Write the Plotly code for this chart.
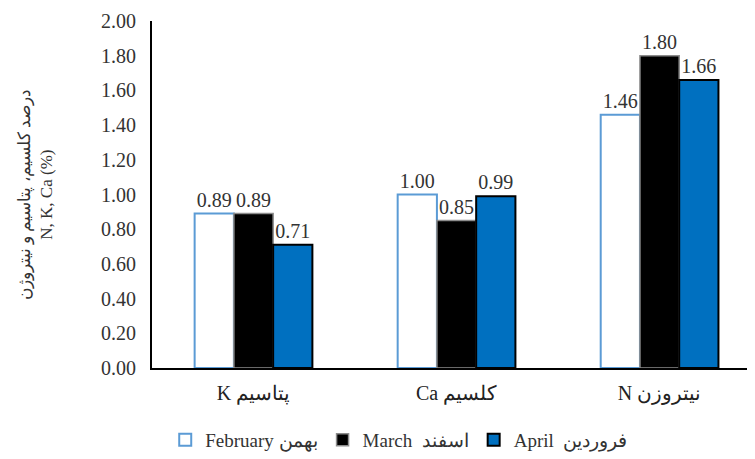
import plotly.graph_objects as go

categories = ["K پتاسیم", "Ca کلسیم", "N نیتروزن"]
series_names = ["February بهمن", "March  اسفند", "April  فروردین"]
february = [0.89, 1.00, 1.46]
march = [0.89, 0.85, 1.80]
april = [0.71, 0.99, 1.66]
y_ticks = [0.0, 0.2, 0.4, 0.6, 0.8, 1.0, 1.2, 1.4, 1.6, 1.8, 2.0]

serif = "Liberation Serif, Times New Roman, serif"

styles = [
    dict(fill="#FFFFFF", line="#5B9BD5", lw=2),
    dict(fill="#000000", line="#8C8C8C", lw=1.5),
    dict(fill="#0070C0", line="#000000", lw=2),
]

fig = go.Figure()
for name, vals, st in zip(series_names, [february, march, april], styles):
    fig.add_trace(go.Bar(
        x=categories, y=vals, name=name,
        marker=dict(color=st["fill"], line=dict(color=st["line"], width=st["lw"])),
        text=[f"{v:.2f}" for v in vals], textposition="outside",
        textfont=dict(family=serif, size=20, color="#333333"),
        cliponaxis=False,
    ))

fig.update_layout(
    width=747, height=451,
    margin=dict(l=144, r=0, t=13, b=90),
    paper_bgcolor="white", plot_bgcolor="white",
    barmode="group", bargap=0.42, bargroupgap=0,
    font=dict(family=serif, size=19, color="#333333"),
    showlegend=True,
    legend=dict(orientation="h", x=0.41, xanchor="center", y=-0.207, yanchor="middle",
                font=dict(family=serif, size=19, color="#333333"), traceorder="normal"),
    xaxis=dict(range=[-0.5, 2.47], showline=True, linecolor="#000000", linewidth=2,
               showgrid=False, ticks="", ticklabelstandoff=6,
               tickfont=dict(family=serif, size=20, color="#222222")),
    yaxis=dict(range=[0, 2], tickvals=y_ticks, ticktext=[f"{v:.2f}" for v in y_ticks],
               showline=True, linecolor="#000000", linewidth=2, showgrid=False,
               zeroline=False, ticks="", ticklabelstandoff=10,
               tickfont=dict(family=serif, size=20, color="#333333")),
    annotations=[dict(
        text="درصد کلسیم، پتاسیم و نیتروژن<br>N, K, Ca (%)",
        xref="paper", yref="paper", x=-0.193, y=0.5, xanchor="center", yanchor="middle",
        textangle=-90, showarrow=False,
        font=dict(family=serif, size=17, color="#333333"),
    )],
)

fig.write_html("out.html")
